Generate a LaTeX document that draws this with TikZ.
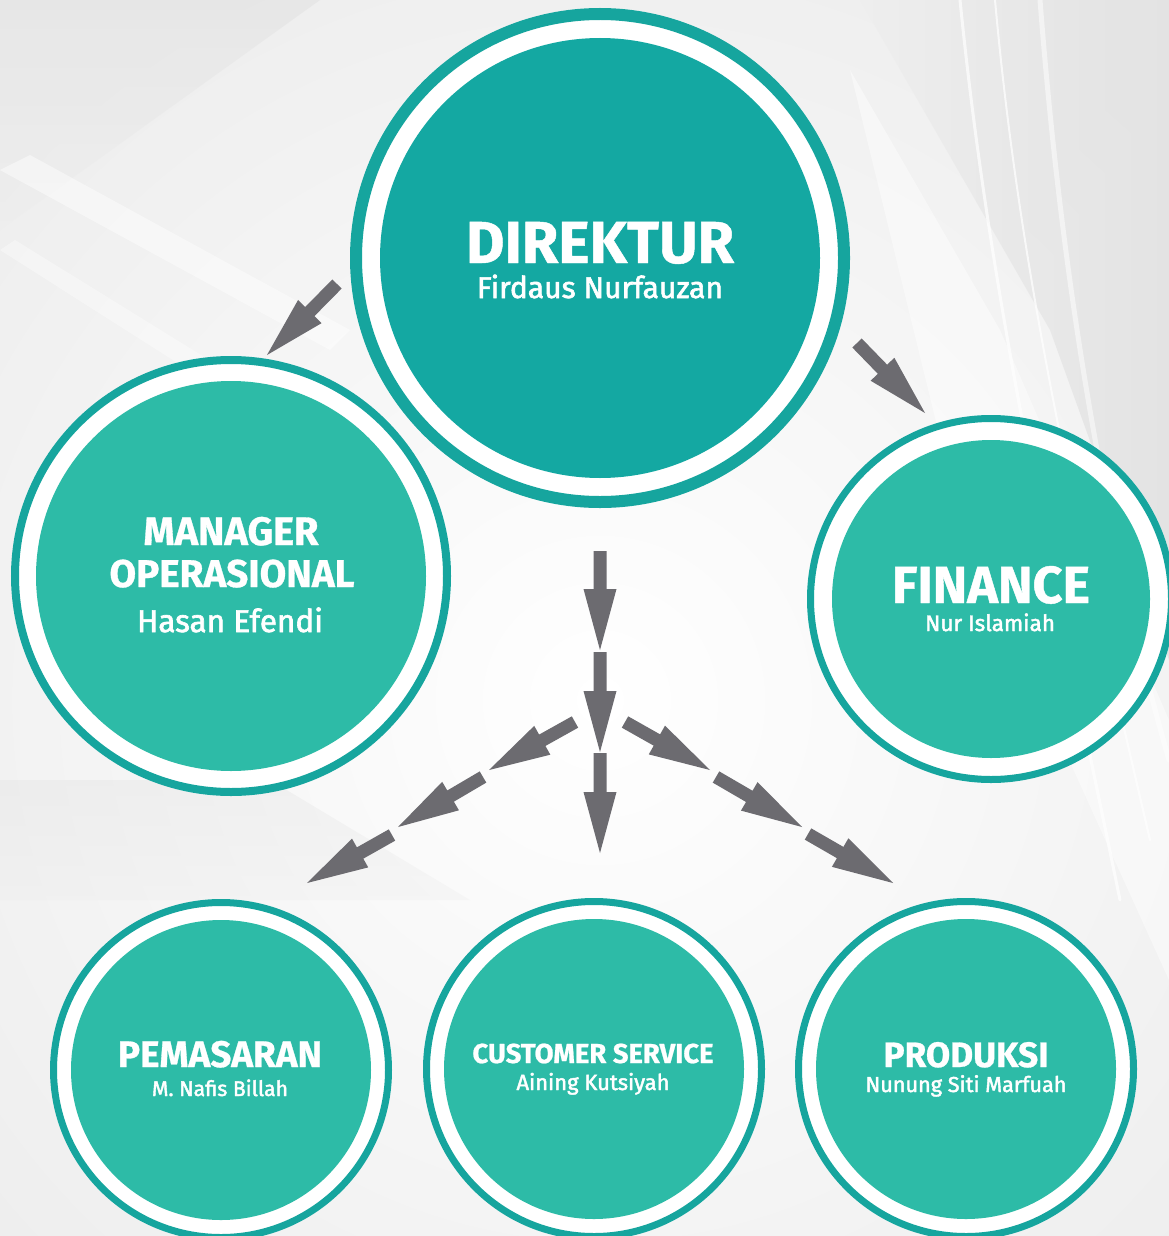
\documentclass[tikz,border=0pt]{standalone}
\usepackage{fontspec}
\setmainfont{Fira Sans}[BoldFeatures={FakeBold=0.8}]
\newfontfamily\namefont{Fira Sans}[FakeBold=2]
\usetikzlibrary{calc}
\definecolor{ringteal}{RGB}{22,165,158}
\definecolor{dirfill}{RGB}{20,168,162}
\definecolor{subfill}{RGB}{45,187,167}
\definecolor{arrowgray}{RGB}{108,107,112}
\definecolor{bgbase}{RGB}{238,238,238}
\definecolor{bgdark}{RGB}{226,226,226}

\newcommand{\fitw}[2]{\resizebox{#1}{!}{#2}}
\newcommand{\blockarrow}[2]{%
  \coordinate (bah) at ($(#2)!61pt!(#1)$);
  \fill[arrowgray] ($(#1)!6.5pt!90:(#2)$) -- ($(bah)!6.5pt!90:(#2)$) -- ($(bah)!16.5pt!90:(#2)$) -- (#2) -- ($(bah)!16.5pt!-90:(#2)$) -- ($(bah)!6.5pt!-90:(#2)$) -- ($(#1)!6.5pt!-90:(#2)$) -- cycle;}

\tikzset{
  disc/.style={circle, inner sep=0pt, minimum size=#1},
  ttl/.style={text=white, anchor=base, inner sep=0pt, font=\bfseries},
  nm/.style={text=white, anchor=base, inner sep=0pt, font=\namefont},
  streak/.style={white, line width=#1, line cap=round},
}

\begin{document}
\begin{tikzpicture}[x=1pt,y=-1pt]
\useasboundingbox (0,0) rectangle (1169,1236);
\clip (0,0) rectangle (1169,1236);

% ---------- background ----------
\path[inner color=white, outer color=bgbase] (-200,-100) rectangle (1400,1500);
\path[left color=bgbase, right color=bgdark, opacity=.9] (860,0) -- (1169,0) -- (1169,660) -- (1050,330) -- cycle;
\fill[white, opacity=.45] (850,70) -- (1000,330) -- (1169,720) -- (1169,980) -- (960,520) -- cycle;
\draw[streak=3pt, opacity=.7] (960,0) .. controls (990,300) and (1050,560) .. (1120,900);
\draw[streak=2pt, opacity=.7] (995,0) .. controls (1020,280) and (1080,540) .. (1150,840);
\draw[streak=5pt, opacity=.5] (1040,0) .. controls (1060,260) and (1100,520) .. (1169,760);
\path[top color=bgdark, bottom color=bgbase, opacity=.6] (0,0) -- (320,0) -- (0,230) -- cycle;
\fill[white, opacity=.45] (0,170) -- (30,155) -- (350,330) -- (330,350) -- cycle;
\fill[white, opacity=.35] (0,250) -- (15,240) -- (290,410) -- (275,425) -- cycle;
\path[top color=bgdark, bottom color=bgbase, opacity=.35] (0,780) -- (270,780) -- (470,900) -- (0,900) -- cycle;

% ---------- centres ----------
\coordinate (dirc) at (600,258);
\coordinate (mgrc) at (231,576);
\coordinate (finc) at (991,599);
\coordinate (pemc) at (221,1070);
\coordinate (csc) at (594,1069);
\coordinate (proc) at (966,1069);

% ---------- rings and discs ----------
\fill[white] (dirc) circle[radius=250pt];
\draw[ringteal, line width=12pt] (dirc) circle[radius=244pt];
\node[disc=440pt, fill=dirfill] (dir) at (dirc) {};

\fill[white] (mgrc) circle[radius=220pt];
\draw[ringteal, line width=8pt] (mgrc) circle[radius=216pt];
\node[disc=390pt, fill=subfill] (mgr) at (mgrc) {};

\fill[white] (finc) circle[radius=184pt];
\draw[ringteal, line width=7pt] (finc) circle[radius=180.5pt];
\node[disc=318pt, fill=subfill] (fin) at (finc) {};

\foreach \c/\n in {pemc/pem, csc/cs, proc/pro}{
  \fill[white] (\c) circle[radius=171pt];
  \draw[ringteal, line width=7pt] (\c) circle[radius=167.5pt];
  \node[disc=300pt, fill=subfill] (\n) at (\c) {};
}

% ---------- texts ----------
\node[ttl] (dirT) at (600,263) {\fitw{268pt}{DIREKTUR}};
\node[nm]  (dirN) at (600,298) {\fitw{246pt}{Firdaus Nurfauzan}};

\node[ttl] (mgrT1) at (231,545) {\fitw{175pt}{MANAGER}};
\node[ttl] (mgrT2) at (232,587) {\fitw{245pt}{OPERASIONAL}};
\node[nm]  (mgrN)  at (230,632) {\fitw{186pt}{Hasan Efendi}};

\node[ttl] (finT) at (991,603) {\fitw{198pt}{FINANCE}};
\node[nm]  (finN) at (990,631) {\fitw{130pt}{Nur Islamiah}};

\node[ttl] (pemT) at (220,1067) {\fitw{204pt}{PEMASARAN}};
\node[nm]  (pemN) at (220,1096) {\fitw{136pt}{M. Nafis Billah}};

\node[ttl] (csT) at (593,1063) {\fitw{241pt}{CUSTOMER SERVICE}};
\node[nm]  (csN) at (593,1090) {\fitw{153pt}{Aining Kutsiyah}};

\node[ttl] (proT) at (966,1067) {\fitw{165pt}{PRODUKSI}};
\node[nm]  (proN) at (966,1092) {\fitw{201pt}{Nunung Siti Marfuah}};

% ---------- arrows ----------
\coordinate (a1s) at (337,284); \coordinate (a1e) at (267,355);
\coordinate (a2s) at (857,343); \coordinate (a2e) at (925,413);
\coordinate (v1s) at (600,551); \coordinate (v1e) at (600,650);
\coordinate (v2s) at (600,652); \coordinate (v2e) at (600,752);
\coordinate (v3s) at (600,753); \coordinate (v3e) at (600,853);
\coordinate (l1s) at (575,722); \coordinate (l1e) at (489,770);
\coordinate (l2s) at (483,777); \coordinate (l2e) at (398,827);
\coordinate (l3s) at (392,835); \coordinate (l3e) at (307,883);
\coordinate (r1s) at (625,722); \coordinate (r1e) at (710,770);
\coordinate (r2s) at (716,777); \coordinate (r2e) at (802,827);
\coordinate (r3s) at (808,834); \coordinate (r3e) at (893,883);

\blockarrow{a1s}{a1e}
\blockarrow{a2s}{a2e}
\blockarrow{v1s}{v1e}
\blockarrow{v2s}{v2e}
\blockarrow{v3s}{v3e}
\blockarrow{l1s}{l1e}
\blockarrow{l2s}{l2e}
\blockarrow{l3s}{l3e}
\blockarrow{r1s}{r1e}
\blockarrow{r2s}{r2e}
\blockarrow{r3s}{r3e}
\end{tikzpicture}
\end{document}
